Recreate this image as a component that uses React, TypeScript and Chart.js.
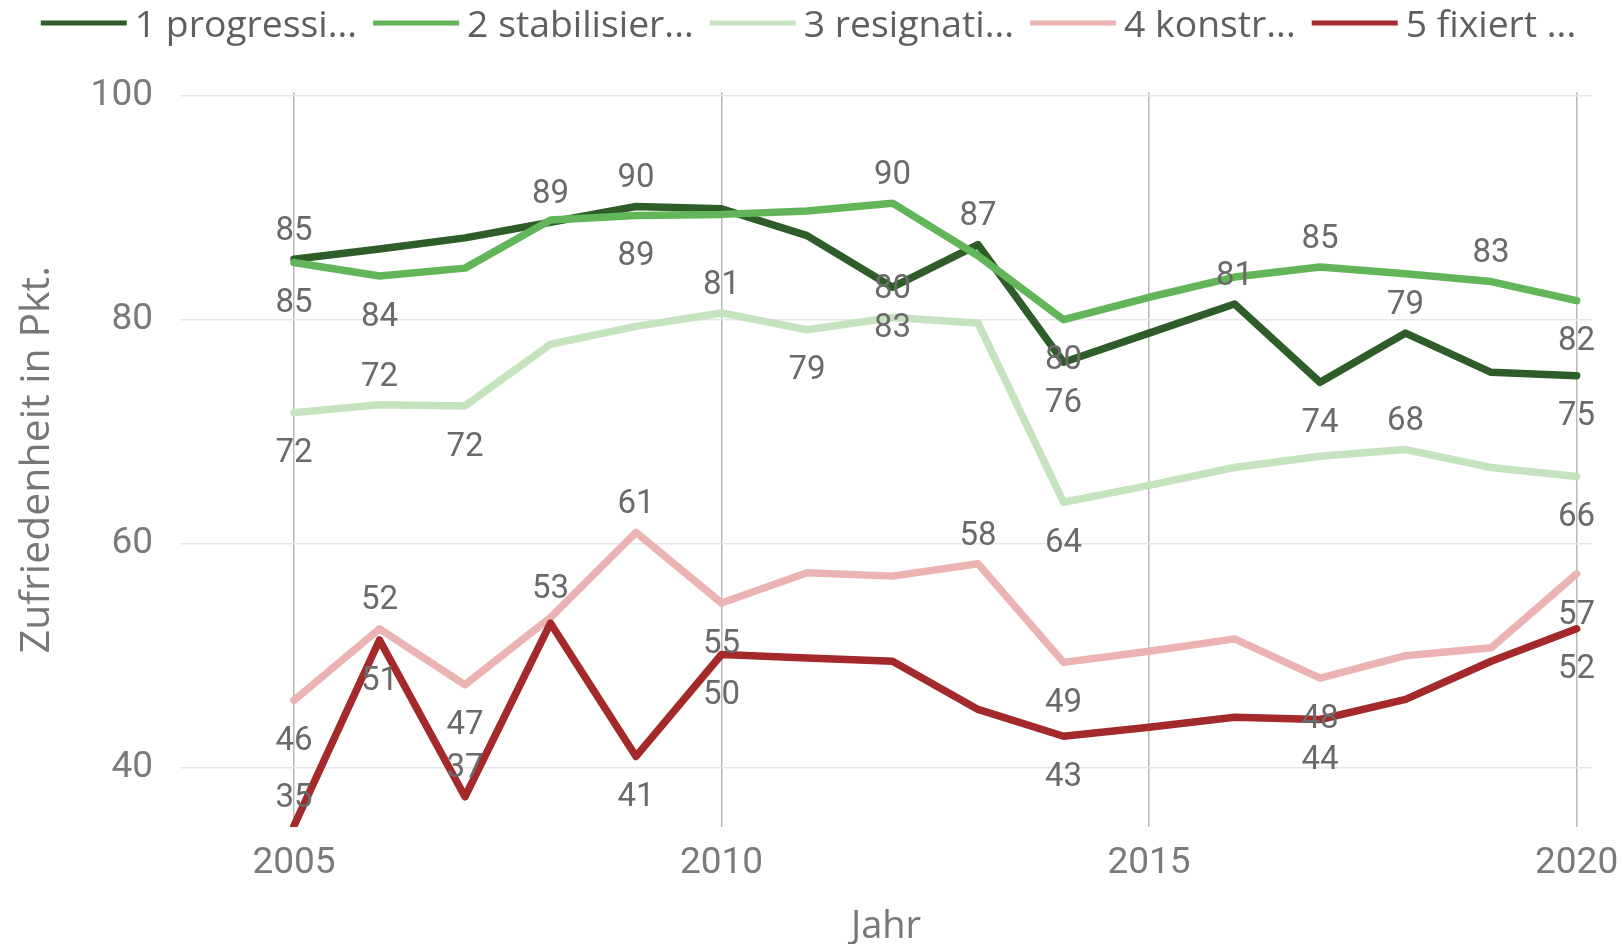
import React, { useEffect, useRef } from "react";
import { Chart, registerables } from "chart.js";

Chart.register(...registerables);

// ---------- data ----------
const years = [2005, 2006, 2007, 2008, 2009, 2010, 2011, 2012, 2013, 2014, 2015, 2016, 2017, 2018, 2019, 2020];

const seriesNames = ["1 progressi...", "2 stabilisier...", "3 resignati...", "4 konstr...", "5 fixiert ..."];

const progressiv = [85.4, 86.3, 87.3, 88.7, 90.1, 89.9, 87.5, 82.9, 86.7, 76.2, 78.8, 81.4, 74.4, 78.8, 75.3, 75.0];
const stabilisiert = [85.1, 83.9, 84.6, 88.9, 89.3, 89.4, 89.7, 90.4, 85.7, 80.0, 82.0, 83.8, 84.7, 84.1, 83.4, 81.7];
const resignativ = [71.7, 72.4, 72.3, 77.8, 79.4, 80.6, 79.1, 80.2, 79.7, 63.7, 65.2, 66.8, 67.8, 68.4, 66.8, 66.0];
const konstruktiv = [46.0, 52.4, 47.4, 53.4, 61.0, 54.7, 57.4, 57.1, 58.2, 49.4, 50.4, 51.5, 48.0, 50.0, 50.7, 57.3];
const fixiert = [34.8, 51.4, 37.4, 52.9, 41.0, 50.1, 49.8, 49.5, 45.2, 42.8, 43.6, 44.5, 44.3, 46.1, 49.5, 52.4];

const seriesValues = [progressiv, stabilisiert, resignativ, konstruktiv, fixiert];

const yTickValues = [40, 60, 80, 100];
const xTickValues = [2005, 2010, 2015, 2020];
const xTitle = "Jahr";
const yTitle = "Zufriedenheit in Pkt.";

// ---------- styling ----------
const colors = ["#2E5D29", "#62B558", "#C6E3BF", "#EBB4B2", "#A3292B"];

// which points carry a value label, and whether above ("a") or below ("b")
const labelPlacement: Record<number, string>[] = [
  { 0: "a", 3: "a", 4: "a", 7: "b", 8: "a", 9: "b", 11: "a", 12: "b", 13: "a", 15: "b" },
  { 0: "b", 1: "b", 4: "b", 7: "a", 9: "b", 12: "a", 14: "a", 15: "b" },
  { 0: "b", 1: "a", 2: "b", 5: "a", 6: "b", 7: "a", 9: "b", 13: "a", 15: "b" },
  { 0: "b", 1: "a", 2: "b", 3: "a", 4: "a", 5: "b", 8: "a", 9: "b", 12: "b", 15: "b" },
  { 0: "a", 1: "b", 2: "a", 4: "b", 5: "b", 9: "b", 12: "b", 15: "b" },
];

const dataLabelPlugin = {
  id: "dataLabels",
  afterDatasetsDraw(chart: any) {
    const ctx = chart.ctx;
    const size = 33;
    ctx.save();
    ctx.font = `${size}px Roboto`;
    ctx.fillStyle = "#6a6a6a";
    ctx.textAlign = "center";
    ctx.textBaseline = "alphabetic";
    const half = (size * 0.711) / 2;
    chart.data.datasets.forEach((ds: any, i: number) => {
      const meta = chart.getDatasetMeta(i);
      const place = ds.labelPlacement || {};
      meta.data.forEach((pt: any, j: number) => {
        const p = place[j];
        if (!p) return;
        const v = Math.round(ds.data[j].y);
        const cy = p === "a" ? pt.y - 31 : pt.y + 38;
        ctx.fillText(String(v), pt.x, cy + half);
      });
    });
    ctx.restore();
  },
};

const legendPlugin = {
  id: "lineLegend",
  afterDraw(chart: any) {
    const ctx = chart.ctx;
    ctx.save();
    ctx.font = '37.3px "Open Sans"';
    ctx.textBaseline = "alphabetic";
    ctx.textAlign = "left";
    const lineLen = 86;
    const gapLT = 8;
    const gapItems = 16;
    const ds = chart.data.datasets;
    const widths = ds.map((d: any) => ctx.measureText(d.label).width);
    const total = widths.reduce((a: number, w: number) => a + lineLen + gapLT + w, 0) + gapItems * (ds.length - 1);
    let x = chart.width / 2 - 3 - total / 2;
    const lineY = 23;
    const baseY = 37;
    ds.forEach((d: any, i: number) => {
      ctx.strokeStyle = d.borderColor;
      ctx.lineWidth = 5;
      ctx.lineCap = "butt";
      ctx.beginPath();
      ctx.moveTo(x, lineY);
      ctx.lineTo(x + lineLen, lineY);
      ctx.stroke();
      x += lineLen + gapLT;
      ctx.fillStyle = "#5f5f5f";
      ctx.fillText(d.label, x, baseY);
      x += widths[i] + gapItems;
    });
    ctx.restore();
  },
};

export default function App() {
  const ref = useRef<HTMLCanvasElement>(null);

  useEffect(() => {
    if (!ref.current) return;
    const chart = new Chart(ref.current, {
      type: "line",
      data: {
        datasets: seriesNames.map((name, i) => ({
          label: name,
          data: years.map((yr, j) => ({ x: yr, y: seriesValues[i][j] })),
          borderColor: colors[i],
          backgroundColor: colors[i],
          borderWidth: 7.5,
          pointRadius: 0,
          pointHoverRadius: 0,
          tension: 0,
          borderJoinStyle: "round",
          borderCapStyle: "round",
          order: seriesNames.length - i,
          labelPlacement: labelPlacement[i],
        })) as any,
      },
      options: {
        animation: false,
        responsive: false,
        devicePixelRatio: 1,
        layout: { padding: { top: 92.3, right: 31, bottom: 0, left: 0 } },
        plugins: {
          legend: { display: false },
          tooltip: { enabled: false },
        },
        scales: {
          x: {
            type: "linear",
            min: 2003.667,
            max: 2020.18,
            afterBuildTicks: (axis: any) => {
              axis.ticks = xTickValues.map((v) => ({ value: v }));
            },
            ticks: {
              stepSize: 5,
              includeBounds: false,
              autoSkip: false,
              maxRotation: 0,
              callback: (v: any) => String(v),
              font: { size: 37, family: "Roboto" },
              color: "#7a7a7a",
              padding: 15,
            },
            grid: { color: "#b9b9b9", lineWidth: 1.5, drawTicks: false },
            border: { display: false },
            title: {
              display: true,
              text: xTitle,
              font: { size: 38, family: "Open Sans", lineHeight: 0.8 },
              color: "#777777",
              padding: { top: 0, bottom: 2 },
            },
            afterFit: (axis: any) => {
              axis.height = 117;
              axis.paddingLeft = 0;
              axis.paddingRight = 0;
            },
          },
          y: {
            type: "linear",
            min: 34.7,
            max: 100.3,
            afterBuildTicks: (axis: any) => {
              axis.ticks = yTickValues.map((v) => ({ value: v }));
            },
            ticks: {
              stepSize: 20,
              includeBounds: false,
              callback: (v: any) => String(v),
              font: { size: 37, family: "Roboto" },
              color: "#7a7a7a",
              padding: 27,
            },
            grid: { color: "#e7e7e7", lineWidth: 1.5, drawTicks: false },
            border: { display: false },
            title: {
              display: true,
              text: yTitle,
              font: { size: 41, family: "Open Sans" },
              color: "#777777",
              padding: { top: 13, bottom: 0 },
            },
            afterFit: (axis: any) => {
              axis.width = 180;
            },
          },
        },
      } as any,
      plugins: [dataLabelPlugin, legendPlugin],
    });
    return () => chart.destroy();
  }, []);

  return (
    <div style={{ position: "absolute", left: 0, top: 0, width: 1623, height: 944, background: "#ffffff" }}>
      <canvas ref={ref} width={1623} height={944} style={{ display: "block", width: 1623, height: 944 }} />
    </div>
  );
}
